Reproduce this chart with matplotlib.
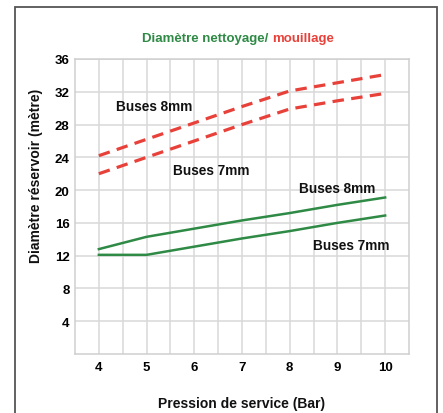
import matplotlib
matplotlib.use("Agg")
import matplotlib.pyplot as plt
from matplotlib.patches import Rectangle

plt.rcParams['font.family'] = ['Liberation Sans', 'DejaVu Sans']

# Data
pression = [4, 5, 6, 7, 8, 9, 10]
mouillage_8mm = [24.2, 26.2, 28.2, 30.2, 32.1, 33.1, 34.1]
mouillage_7mm = [22.0, 24.0, 26.0, 28.0, 29.9, 30.9, 31.8]
nettoyage_8mm = [12.8, 14.3, 15.3, 16.3, 17.2, 18.2, 19.1]
nettoyage_7mm = [12.1, 12.1, 13.1, 14.1, 15.0, 16.0, 16.9]
x_ticks = [4, 5, 6, 7, 8, 9, 10]
y_ticks = [4, 8, 12, 16, 20, 24, 28, 32, 36]

GREEN = '#2e8a45'
RED = '#e8413a'

W, H = 443, 414
fig = plt.figure(figsize=(W / 100, H / 100), dpi=100)
fig.patch.set_facecolor('white')

ax_l, ax_r, ax_t, ax_b = 75, 409, 60, 355
ax = fig.add_axes([ax_l / W, 1 - ax_b / H, (ax_r - ax_l) / W, (ax_b - ax_t) / H])
ax.set_facecolor('white')

ax.plot(pression, mouillage_8mm, color=RED, lw=2.3, dashes=(3.6, 2.3))
ax.plot(pression, mouillage_7mm, color=RED, lw=2.3, dashes=(3.6, 2.3))
ax.plot(pression, nettoyage_8mm, color=GREEN, lw=1.8)
ax.plot(pression, nettoyage_7mm, color=GREEN, lw=1.8)

ax.set_xlim(3.5, 10.5)
ax.set_ylim(0, 36)
ax.set_xticks(x_ticks)
ax.set_xticks([v + 0.5 for v in x_ticks[:-1]], minor=True)
ax.set_yticks(y_ticks)
ax.set_xticklabels([str(v) for v in x_ticks], fontweight='bold', fontsize=9.5)
ax.set_yticklabels([str(v) for v in y_ticks], fontweight='bold', fontsize=9.5)
ax.tick_params(axis='both', which='both', length=0)
ax.tick_params(axis='x', pad=5)
ax.tick_params(axis='y', pad=4)
ax.grid(True, which='both', color='#d8d8d8', lw=1.1)
ax.set_axisbelow(True)
for s in ax.spines.values():
    s.set_color('#cfcfcf')
    s.set_linewidth(1.1)

lbl = dict(fontsize=9.8, fontweight='bold', color='#111111')
ax.text(4.35, 30.3, 'Buses 8mm', ha='left', va='center', **lbl)
ax.text(5.55, 22.4, 'Buses 7mm', ha='left', va='center', **lbl)
ax.text(8.2, 20.3, 'Buses 8mm', ha='left', va='center', **lbl)
ax.text(8.48, 13.3, 'Buses 7mm', ha='left', va='center', **lbl)

# Title in two colours
fig.text(268 / W, 1 - 39 / H, 'Diamètre nettoyage/', ha='right', va='center',
         fontsize=9.5, fontweight='bold', color=GREEN)
fig.text(272 / W, 1 - 39 / H, 'mouillage', ha='left', va='center',
         fontsize=9.5, fontweight='bold', color=RED)

fig.text(242 / W, 1 - 404 / H, 'Pression de service (Bar)', ha='center', va='center',
         fontsize=10, fontweight='bold', color='#111111')
fig.text(36 / W, 1 - 176 / H, 'Diamètre réservoir (mètre)', ha='center', va='center',
         rotation=90, fontsize=10, fontweight='bold', color='#111111')

# Outer frame
fig.patches.append(Rectangle((15 / W, -0.05), (437 - 15) / W, 1.05 - 8 / H,
                             transform=fig.transFigure, fill=False,
                             edgecolor='#555555', lw=1.3))

fig.savefig('out.png', dpi=100)
